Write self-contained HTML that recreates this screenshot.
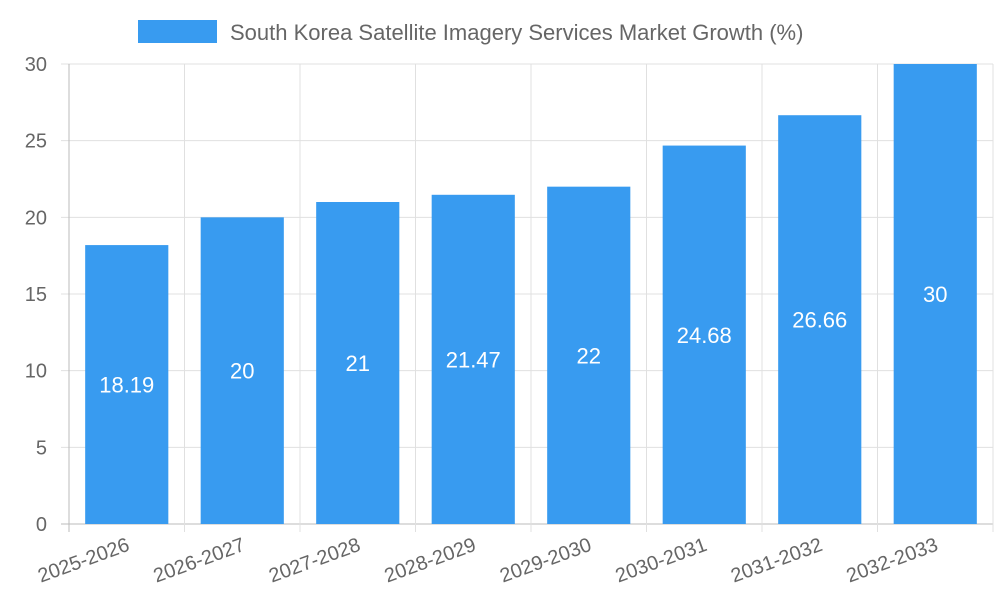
<!DOCTYPE html>
<html><head><meta charset="utf-8"><style>
html,body{margin:0;padding:0;background:#fff}
svg{display:block;font-family:"Liberation Sans",sans-serif}
</style></head><body>
<svg id="chart" width="1000" height="600">
<g>
<rect x="138" y="20" width="79" height="23" fill="#389bf0"></rect>
<text x="230" y="40" font-size="22" fill="#666">South Korea Satellite Imagery Services Market Growth (%)</text>
</g>
<g id="grid"></g><g id="bars"></g><g id="labels"></g>
</svg>
<script>
const categories=["2025-2026","2026-2027","2027-2028","2028-2029","2029-2030","2030-2031","2031-2032","2032-2033"];
const values=[18.19,20,21,21.47,22,24.68,26.66,30];
const yTicks=[0,5,10,15,20,25,30];
const L=69,R=993,T=64,B=524,yMax=30;
const NS="http://www.w3.org/2000/svg";
const cw=(R-L)/categories.length;
function y(v){return B-(v/yMax)*(B-T);}
function x(i){return L+cw*i;}
function mk(t,a,p){const e=document.createElementNS(NS,t);for(const k in a)e.setAttribute(k,a[k]);p.appendChild(e);return e;}
const grid=document.getElementById('grid'),bars=document.getElementById('bars'),labels=document.getElementById('labels');
yTicks.forEach(v=>{
 const l=mk('line',{x1:61,x2:R,y1:y(v),y2:y(v),stroke:v===0?'#bbb':'#e0e0e0','stroke-width':1},grid);
 
 
 const t=mk('text',{x:47,y:y(v)+7,'text-anchor':'end','font-size':20,fill:'#666'},grid);
 t.textContent=v;
 
 
});
for(let i=0;i<=categories.length;i++){
 const l=mk('line',{x1:x(i),x2:x(i),y1:T,y2:532,stroke:i===0?'#bbb':'#e0e0e0','stroke-width':1},grid);
 
 
}
categories.forEach((c,i)=>{
 const bw=cw*0.72,bx=x(i)+(cw-bw)/2,cx=x(i)+cw/2;
 const r=mk('rect',{x:bx,y:y(values[i]),width:bw,height:B-y(values[i]),fill:'#389bf0'},bars);
 
 
 const v=mk('text',{x:cx,y:(y(values[i])+B)/2+8,'text-anchor':'middle','font-size':22,fill:'#fff'},labels);
 v.textContent=values[i];
 
 
 const t=mk('text',{x:0,y:0,'text-anchor':'end','font-size':20,fill:'#666',transform:`translate(${cx+4},${550}) rotate(-20)`},labels);
 t.textContent=c;
 
 
});
</script>
</body></html>
